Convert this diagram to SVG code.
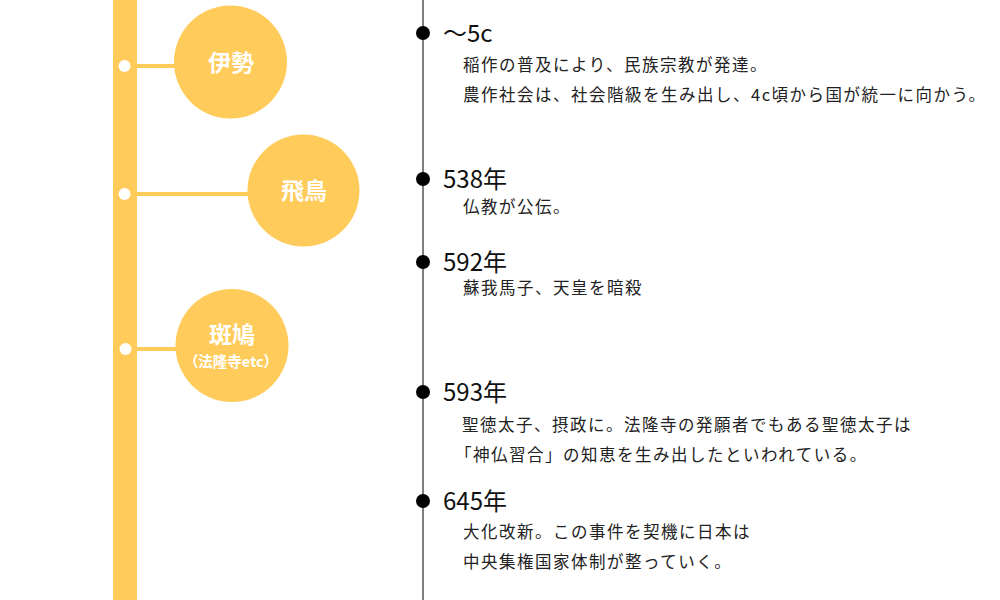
<svg xmlns="http://www.w3.org/2000/svg" width="1000" height="600" viewBox="0 0 1000 600">
<style>
.bar{fill:#FFCC5B}
.link{stroke:#FFCC5B;stroke-width:4}
.wdot{fill:#fff}
.circ{fill:#FFCC5B}
.ct{font-family:"Noto Sans CJK JP","Noto Sans",sans-serif;font-weight:bold;fill:#fff;text-anchor:middle}
.tl{stroke:#555;stroke-width:1.5}
.bdot{fill:#000}
.yr{font-family:"Noto Sans CJK JP","Noto Sans",sans-serif;font-size:24px;fill:#111}
.bd{font-family:"Noto Sans CJK JP","Noto Sans",sans-serif;font-size:16.5px;letter-spacing:1.5px;fill:#222}
</style>
<rect class="bar" x="113" y="0" width="24" height="600"/>
<g id="connectors">
<line class="link" x1="137" y1="66" x2="180" y2="66"/>
<line class="link" x1="137" y1="194" x2="252" y2="194"/>
<line class="link" x1="137" y1="349" x2="180" y2="349"/>
<line class="tl" x1="423" y1="0" x2="423" y2="600"/>
</g>
<circle class="wdot" cx="124.5" cy="66" r="6"/>
<circle class="wdot" cx="124.5" cy="194" r="6"/>
<circle class="wdot" cx="125.5" cy="349" r="6"/>
<g id="ise">
<circle class="circ" cx="230.5" cy="62" r="56.5"/>
<text class="ct" x="231" y="71" font-size="23">伊勢</text>
</g>
<g id="asuka">
<circle class="circ" cx="303.5" cy="190.5" r="56"/>
<text class="ct" x="304" y="199" font-size="23">飛鳥</text>
</g>
<g id="ikaruga">
<circle class="circ" cx="232" cy="345.5" r="56.5"/>
<text class="ct" x="232" y="343" font-size="23">斑鳩</text>
<text class="ct" x="231" y="367" font-size="14.5">（法隆寺etc）</text>
</g>
<g id="e1">
<circle class="bdot" cx="423" cy="33" r="7"/>
<text class="yr" x="443" y="42">～5c</text>
<text class="bd" x="463" y="71">稲作の普及により、民族宗教が発達。</text>
<text class="bd" x="463" y="101">農作社会は、社会階級を生み出し、4c頃から国が統一に向かう。</text>
</g>
<g id="e2">
<circle class="bdot" cx="423" cy="179" r="7"/>
<text class="yr" x="443" y="188">538年</text>
<text class="bd" x="463" y="213">仏教が公伝。</text>
</g>
<g id="e3">
<circle class="bdot" cx="423" cy="262" r="7"/>
<text class="yr" x="443" y="271">592年</text>
<text class="bd" x="463" y="294">蘇我馬子、天皇を暗殺</text>
</g>
<g id="e4">
<circle class="bdot" cx="423" cy="392" r="7"/>
<text class="yr" x="443" y="401">593年</text>
<text class="bd" x="462" y="431">聖徳太子、摂政に。法隆寺の発願者でもある聖徳太子は</text>
<text class="bd" x="455" y="461">「神仏習合」の知恵を生み出したといわれている。</text>
</g>
<g id="e5">
<circle class="bdot" cx="423" cy="501" r="7"/>
<text class="yr" x="443" y="510">645年</text>
<text class="bd" x="463" y="538">大化改新。この事件を契機に日本は</text>
<text class="bd" x="463" y="568">中央集権国家体制が整っていく。</text>
</g>
</svg>
